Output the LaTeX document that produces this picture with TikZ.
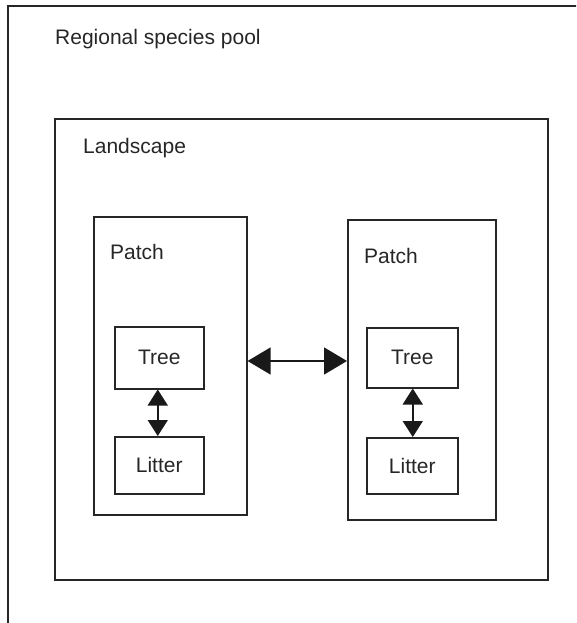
\documentclass[tikz,border=0pt]{standalone}
\usepackage{fontspec}
\setmainfont{Liberation Sans}
\usetikzlibrary{arrows.meta,calc}
\begin{document}
\begin{tikzpicture}[x=1pt,y=-1pt,
  frame/.style={draw=black!85,line width=1.6pt,rectangle,inner sep=0pt,anchor=north west},
  unitbox/.style={frame,line width=1.5pt,font=\fontsize{21}{24}\selectfont},
  lbl/.style={anchor=base west,inner sep=0pt,text=black!85,font=\fontsize{21}{24}\selectfont},
  bigarrow/.style={line width=1.5pt,draw=black!90,{Triangle[length=23pt,width=27pt]}-{Triangle[length=23pt,width=27pt]}},
  smallarrow/.style={line width=1.5pt,draw=black!90,{Triangle[length=16pt,width=20pt]}-{Triangle[length=16pt,width=20pt]}}]
  \useasboundingbox (0,0) rectangle (576,623);
  \begin{scope}
    \clip (0,0) rectangle (576,623);
    % regional species pool frame runs past the page edge
    \node[frame,minimum width=620pt,minimum height=660pt] (pool) at (7,5) {};
  \end{scope}
  \node[lbl] (poolLabel) at (55,45) {Regional species pool};

  % landscape
  \node[frame,minimum width=493pt,minimum height=461pt] (land) at (54,118) {};
  \node[lbl] (landLabel) at (83,153) {Landscape};

  % two patches
  \node[frame,minimum width=153pt,minimum height=298pt] (patchL) at (93,216) {};
  \node[lbl] (patchLLabel) at (110,259) {Patch};
  \node[frame,minimum width=148pt,minimum height=300pt] (patchR) at (347,219) {};
  \node[lbl] (patchRLabel) at (364,263) {Patch};

  % tree and litter boxes
  \node[unitbox,minimum width=89pt,minimum height=62pt] (treeL) at (114,326) {};
  \node at (treeL.center) [font=\fontsize{21}{24}\selectfont,text=black!85] {Tree};
  \node[unitbox,minimum width=89pt,minimum height=57pt] (litterL) at (114,436) {};
  \node at (litterL.center) [font=\fontsize{21}{24}\selectfont,text=black!85] {Litter};
  \node[unitbox,minimum width=91pt,minimum height=60pt] (treeR) at (366,327) {};
  \node at (treeR.center) [font=\fontsize{21}{24}\selectfont,text=black!85] {Tree};
  \node[unitbox,minimum width=91pt,minimum height=56pt] (litterR) at (366,437) {};
  \node at (litterR.center) [font=\fontsize{21}{24}\selectfont,text=black!85] {Litter};

  % connectors
  \coordinate (link) at (0,361);
  \draw[bigarrow] (patchL.east |- link) -- (patchR.west |- link);
  \draw[smallarrow] ([xshift=-1.5pt]treeL.south) -- ([xshift=-1.5pt]litterL.north);
  \draw[smallarrow] ([xshift=0.5pt]treeR.south) -- ([xshift=0.5pt]litterR.north);
\end{tikzpicture}
\end{document}
